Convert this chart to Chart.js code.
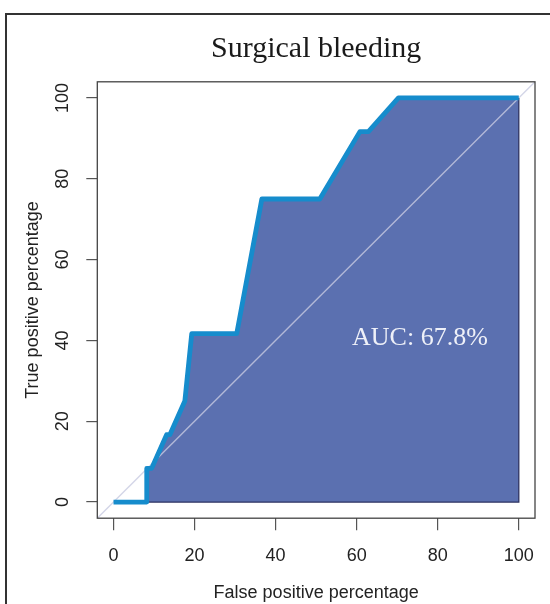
<!DOCTYPE html>
<html>
<head>
<meta charset="utf-8">
<script src="https://cdn.jsdelivr.net/npm/chart.js@4.4.1/dist/chart.umd.min.js"></script>
<style>
  html, body { margin: 0; padding: 0; background: #fff; }
  #wrap { position: relative; width: 550px; height: 604px; overflow: hidden; }
  #frame { position: absolute; left: 5px; top: 13px; width: 620px; height: 660px; border-left: 2px solid #333; border-top: 2px solid #333; }
  #chart { position: absolute; left: 0; top: 0; }
</style>
</head>
<body>
<div id="wrap">
  <div id="frame"></div>
  <canvas id="chart" width="550" height="604"></canvas>
</div>
<script>
// ROC points (percent)
const fpr = [0, 8.2, 8.2, 9.4, 13.1, 13.9, 17.6, 19.3, 30.4, 36.6, 50.9, 60.8, 62.9, 70.3, 100];
const tpr = [0, 0, 8.33, 8.33, 16.67, 16.67, 25, 41.67, 41.67, 75, 75, 91.67, 91.67, 100, 100];
const xTicks = [0, 20, 40, 60, 80, 100];
const yTicks = [0, 20, 40, 60, 80, 100];
const axisMin = -4;
const axisMax = 104;

const chartTitle = "Surgical bleeding";
const xTitle = "False positive percentage";
const yTitle = "True positive percentage";
const aucLabel = "AUC: 67.8%";
const aucAt = { x: 75.6, y: 40.6 };

const curve = fpr.map((x, i) => ({ x: x, y: tpr[i] }));
const diagonal = [{ x: axisMin, y: axisMin }, { x: axisMax, y: axisMax }];
const lastZero = tpr.lastIndexOf(0);
const last = fpr.length - 1;
const edge = [
	{ x: fpr[lastZero], y: 0 },
	{ x: fpr[last], y: 0 },
	{ x: fpr[last], y: tpr[last] },
];

const sans = "'Liberation Sans', Arial, sans-serif";
const serif = "'Liberation Serif', 'Times New Roman', serif";

// box around the plot + AUC text, like R's plot()
const boxPlugin = {
	id: "rBox",
	afterDatasetsDraw(chart) {
		const { ctx, chartArea: a, scales } = chart;
		ctx.save();
		ctx.strokeStyle = "#444";
		ctx.lineWidth = 1.3;
		ctx.strokeRect(a.left, a.top, a.right - a.left, a.bottom - a.top);
		ctx.fillStyle = "#eef0f8";
		ctx.font = "26px " + serif;
		ctx.textAlign = "center";
		ctx.textBaseline = "middle";
		ctx.fillText(aucLabel, scales.x.getPixelForValue(aucAt.x), scales.y.getPixelForValue(aucAt.y));
		ctx.restore();
	},
};

const ctx = document.getElementById("chart");
new Chart(ctx, {
	type: "line",
	data: {
		datasets: [
			{
				data: curve,
				borderColor: "#168ccc",
				borderWidth: 4.8,
				borderJoinStyle: "round",
				pointRadius: 0,
				fill: false,
			},
			{
				data: edge,
				borderColor: "#2b3060",
				borderWidth: 1.3,
				pointRadius: 0,
				fill: false,
			},
			{
				data: diagonal,
				borderColor: "rgba(200, 202, 225, 0.8)",
				borderWidth: 1.3,
				pointRadius: 0,
				fill: false,
			},
			{
				data: curve,
				borderWidth: 0,
				borderColor: "transparent",
				backgroundColor: "#5b70b0",
				pointRadius: 0,
				fill: "origin",
			},
		],
	},
	options: {
		responsive: false,
		animation: false,
		devicePixelRatio: 1,
		layout: { padding: { top: 0, right: 15, bottom: 0, left: 0 } },
		elements: { line: { tension: 0 } },
		plugins: {
			legend: { display: false },
			tooltip: { enabled: false },
			title: {
				display: true,
				text: chartTitle,
				fullSize: false,
				color: "#1a1a1a",
				font: { family: serif, size: 30, weight: "normal" },
				padding: { top: 31, bottom: 14.8 },
			},
		},
		scales: {
			x: {
				type: "linear",
				min: axisMin,
				max: axisMax,
				afterBuildTicks: (s) => {
					s.ticks = xTicks.map((v) => ({ value: v }));
				},
				afterFit: (s) => {
					s.height = 85.8;
				},
				grid: { drawOnChartArea: false, tickLength: 12, color: "#555", lineWidth: 1.2 },
				border: { display: false },
				ticks: {
					padding: 15,
					color: "#222",
					maxRotation: 0,
					autoSkip: false,
					font: { family: sans, size: 18 },
				},
				title: {
					display: true,
					text: xTitle,
					color: "#222",
					font: { family: sans, size: 18 },
					padding: { top: 0, bottom: 0 },
				},
			},
			y: {
				type: "linear",
				min: axisMin,
				max: axisMax,
				afterBuildTicks: (s) => {
					s.ticks = yTicks.map((v) => ({ value: v }));
				},
				afterFit: (s) => {
					s.width = 97.3;
				},
				grid: { drawOnChartArea: false, tickLength: 11, color: "#555", lineWidth: 1.2 },
				border: { display: false },
				ticks: {
					minRotation: 90,
					maxRotation: 90,
					crossAlign: "center",
					padding: 8,
					color: "#222",
					autoSkip: false,
					font: { family: sans, size: 18 },
				},
				title: {
					display: true,
					text: yTitle,
					color: "#222",
					font: { family: sans, size: 18 },
					padding: { top: 22, bottom: 0 },
				},
			},
		},
	},
	plugins: [boxPlugin],
});
</script>
</body>
</html>
